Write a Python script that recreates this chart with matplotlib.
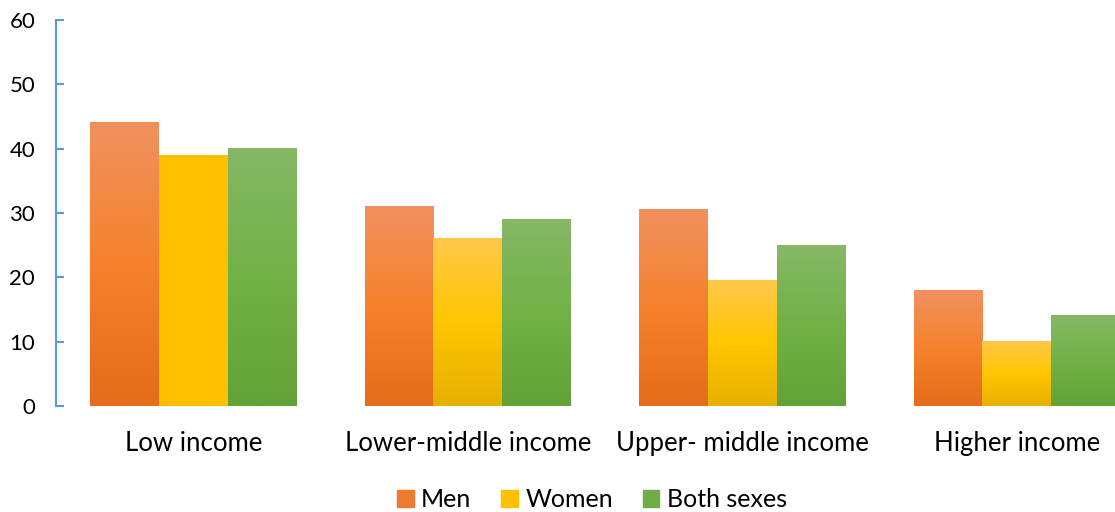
import numpy as np
import matplotlib.pyplot as plt
from matplotlib.colors import LinearSegmentedColormap
from matplotlib.patches import Rectangle

# data
categories = ['Low income', 'Lower-middle income', 'Upper- middle income', 'Higher income']
series = ['Men', 'Women', 'Both sexes']
men = [44, 31, 30.5, 18]
women = [39, 26, 19.5, 10]
both = [40, 29, 25, 14]

# gradient colours (bottom, middle, top) like Excel fill
grads = {
    'Men': ['#E46C1A', '#F5822C', '#F0915F'],
    'Women': ['#E6B000', '#FFC600', '#FFC84A'],
    'Both sexes': ['#62A236', '#72B146', '#86B866'],
}
legend_cols = {'Men': '#EE7A30', 'Women': '#FFC000', 'Both sexes': '#6EAE44'}

plt.rcParams['font.family'] = ['Lato', 'DejaVu Sans']

fig = plt.figure(figsize=(11.15, 5.12), dpi=100)
ax = fig.add_axes([0.0502, 0.207, 0.9498, 0.754])

x = np.arange(len(categories))
w = 0.25
grad = np.linspace(0, 1, 256).reshape(-1, 1)
for i, (name, vals) in enumerate(zip(series, [men, women, both])):
    bars = ax.bar(x + (i - 1) * w, vals, w, color='none', edgecolor='none')
    cmap = LinearSegmentedColormap.from_list(name, grads[name])
    for j, b in enumerate(bars):
        x0, y0 = b.get_x(), b.get_y()
        if name == 'Women' and j == 0:
            # this one is flat in the original
            cm = LinearSegmentedColormap.from_list('flat', ['#FFC000', '#FFC000'])
        else:
            cm = cmap
        ax.imshow(grad, cmap=cm, origin='lower', aspect='auto',
                  extent=(x0, x0 + b.get_width(), y0, y0 + b.get_height()),
                  zorder=2, interpolation='bilinear')

ax.set_xlim(-0.5, 3.358)
ax.set_ylim(0, 60)
ax.set_yticks(range(0, 61, 10))
ax.set_xticks(x)
ax.set_xticklabels(categories, fontsize=18.5)

for s in ['top', 'right', 'bottom']:
    ax.spines[s].set_visible(False)
ax.spines['left'].set_color('#5B9BD5')
ax.spines['left'].set_linewidth(1.5)
ax.tick_params(axis='y', direction='in', length=6, width=1.5, color='#5B9BD5',
               labelsize=16, pad=15, labelcolor='black')
ax.tick_params(axis='x', length=0, pad=18)

handles = [Rectangle((0, 0), 1, 1, color=legend_cols[s]) for s in series]
fig.legend(handles, series, loc='center', bbox_to_anchor=(0.531, 0.024), ncol=3,
           frameon=False, fontsize=18, handlelength=0.65, handleheight=0.65,
           handletextpad=0.3, columnspacing=1.2)

fig.savefig('out.png', dpi=100)
